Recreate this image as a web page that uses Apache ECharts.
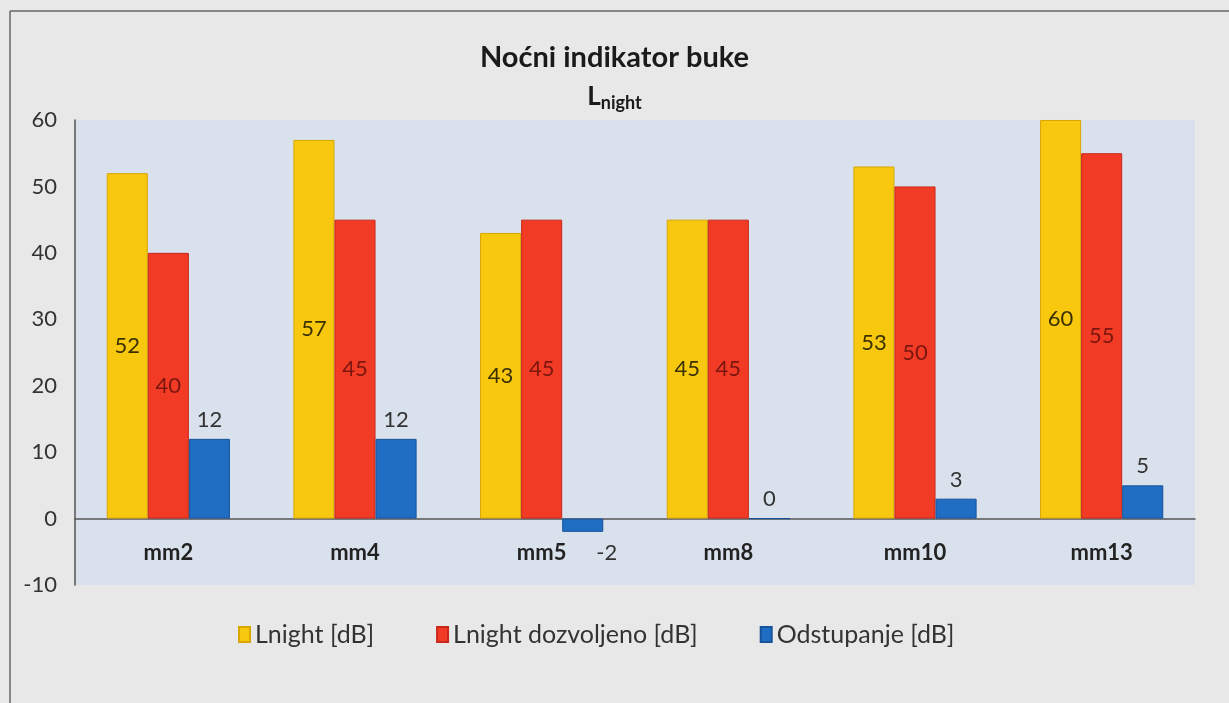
<!DOCTYPE html>
<html>
<head>
<meta charset="utf-8">
<script src="https://cdn.jsdelivr.net/npm/echarts@6/dist/echarts.min.js"></script>
<style>
  html, body { margin: 0; padding: 0; background: #e8e8e8; }
  #main { width: 1229px; height: 703px; }
</style>
</head>
<body>
<div id="main"></div>
<script>
var categories = ["mm2", "mm4", "mm5", "mm8", "mm10", "mm13"]
var lnight = [52, 57, 43, 45, 53, 60]
var lnightAllowed = [40, 45, 45, 45, 50, 55]
var deviation = [12, 12, -2, 0, 3, 5]
var yTicks = { min: -10, max: 60, interval: 10 }

var chartDom = document.getElementById("main")
var myChart = echarts.init(chartDom)
var option

var font = "Lato, 'Open Sans', sans-serif"
var gridTop = 120
var gridBottom = 118
var gridHeight = 703 - gridTop - gridBottom
// move the category axis up to the zero line (labels too)
var zeroOffset = -((0 - yTicks.min) / (yTicks.max - yTicks.min)) * gridHeight

option = {
  backgroundColor: "#e8e8e8",
  textStyle: { fontFamily: font },
  title: {
    text: "Noćni indikator buke",
    subtext: "{a|L}{b|night}",
    left: "center",
    top: 38,
    itemGap: 10,
    textStyle: { fontSize: 29, fontWeight: "bold", color: "#1a1a1a", fontFamily: font },
    subtextStyle: {
      rich: {
        a: { fontSize: 26, fontWeight: "bold", color: "#1a1a1a", fontFamily: font },
        b: { fontSize: 18, fontWeight: "bold", color: "#1a1a1a", fontFamily: font, padding: [12, 0, 0, 0] }
      }
    }
  },
  legend: {
    top: 617,
    left: 233,
    itemWidth: 11,
    itemHeight: 15,
    itemGap: 62,
    icon: "rect",
    textStyle: { fontSize: 25, color: "#333", fontFamily: font },
    data: ["Lnight [dB]", "Lnight dozvoljeno [dB]", "Odstupanje [dB]"]
  },
  grid: {
    left: 75,
    right: 34,
    top: gridTop,
    bottom: gridBottom,
    show: true,
    backgroundColor: "#d9e2ec",
    borderWidth: 0
  },
  xAxis: {
    type: "category",
    data: categories,
    offset: zeroOffset,
    axisLine: { onZero: false, lineStyle: { color: "#555", width: 1.5 } },
    axisTick: { show: false },
    axisLabel: { fontSize: 22, fontWeight: "bold", color: "#222", margin: 23, fontFamily: font }
  },
  yAxis: {
    type: "value",
    min: yTicks.min,
    max: yTicks.max,
    interval: yTicks.interval,
    axisLine: { show: true, lineStyle: { color: "#555", width: 1.5 } },
    axisTick: { show: false },
    splitLine: { show: false },
    axisLabel: { fontSize: 22, color: "#333", margin: 18, fontFamily: font }
  },
  graphic: [
    { type: "line", shape: { x1: 10, y1: 11, x2: 1229, y2: 11 }, style: { stroke: "#666", lineWidth: 1.5 } },
    { type: "line", shape: { x1: 10, y1: 11, x2: 10, y2: 703 }, style: { stroke: "#666", lineWidth: 1.5 } }
  ],
  series: [
    {
      name: "Lnight [dB]",
      type: "bar",
      barGap: 0,
      barCategoryGap: "34%",
      itemStyle: { color: "#f8c80e", borderColor: "#d9a600", borderWidth: 1 },
      label: { show: true, position: "inside", fontSize: 22, color: "#3a3000", fontFamily: font },
      data: lnight
    },
    {
      name: "Lnight dozvoljeno [dB]",
      type: "bar",
      barGap: 0,
      itemStyle: { color: "#f23b24", borderColor: "#c8281a", borderWidth: 1 },
      label: { show: true, position: "inside", fontSize: 22, color: "#7a1510", fontFamily: font },
      data: lnightAllowed
    },
    {
      name: "Odstupanje [dB]",
      type: "bar",
      barGap: 0,
      itemStyle: { color: "#1f6ec4", borderColor: "#17539a", borderWidth: 1 },
      label: { show: true, position: "top", distance: 8, fontSize: 22, color: "#333", fontFamily: font },
      data: deviation.map(function (v) {
        if (v < 0) {
          return { value: v, label: { position: "bottom", offset: [24, 2] } }
        }
        return v
      })
    }
  ]
}

option && myChart.setOption(option)
</script>
</body>
</html>
